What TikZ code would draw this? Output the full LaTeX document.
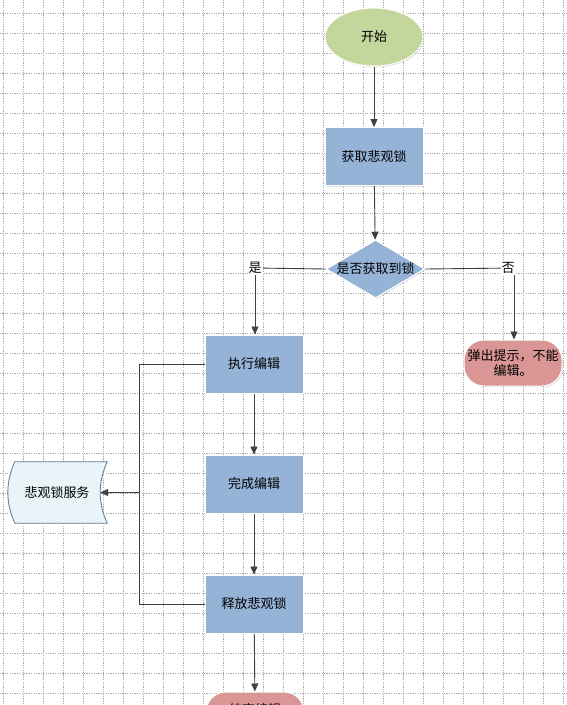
\documentclass[tikz,border=0pt]{standalone}
\usepackage{fontspec}
\setmainfont{Noto Sans CJK SC}
\usetikzlibrary{shapes.geometric,arrows.meta,shadows,calc}
\definecolor{boxblue}{HTML}{95B3D7}
\definecolor{startgreen}{HTML}{C3D69B}
\definecolor{endred}{HTML}{D99694}
\definecolor{tapefill}{HTML}{E8F4F8}
\definecolor{tapeline}{HTML}{5A7A90}
\definecolor{linegray}{HTML}{404040}
\definecolor{gridgray}{HTML}{A8A8A8}
\tikzset{
  every node/.style={font=\fontsize{13}{15}\selectfont, text=black},
  sh/.style={drop shadow={shadow xshift=1.2pt, shadow yshift=-1.2pt, opacity=0.25, fill=gray}},
  procbox/.style={rectangle, fill=boxblue, draw=white, line width=1pt, minimum width=98pt, minimum height=58pt, inner sep=0pt, sh},
  startell/.style={ellipse, fill=startgreen, draw=white, line width=1pt, minimum width=98pt, minimum height=58pt, inner sep=0pt, sh},
  decis/.style={diamond, fill=boxblue, draw=white, line width=1pt, minimum width=98pt, minimum height=58pt, inner sep=0pt, sh, aspect=1.7},
  termred/.style={rectangle, rounded corners=20pt, fill=endred, draw=white, line width=1pt, minimum width=98pt, minimum height=46pt, inner sep=0pt, align=center, sh},
  conn/.style={draw=linegray, line width=0.9pt, -{Triangle[length=8pt,width=7pt]}},
  plain/.style={draw=linegray, line width=0.9pt},
  lbl/.style={fill=white, inner sep=1pt},
  gridln/.style={gridgray, line width=0.9pt, dash pattern=on 1.2pt off 1.2pt},
}
\begin{document}
\begin{tikzpicture}[x=1pt,y=-1pt]
\useasboundingbox (0,0) rectangle (567,705);
\begin{scope}
\clip (0,0) rectangle (567,705);
\fill[white] (0,0) rectangle (567,705);
% grid
\foreach \x in {3,23,...,563} \draw[gridln] (\x,0) -- (\x,705);
\foreach \y in {13,33,...,693} \draw[gridln] (0,\y) -- (567,\y);

% nodes
\node[startell] (start) at (374,37) {开始};
\node[procbox] (get) at (374,156.5) {获取悲观锁};
\node[decis] (dec) at (375.5,269) {是否获取到锁};
\node[termred, text width=98pt] (warn) at (513,363) {弹出提示，不能\\编辑。};
\node[procbox] (exec) at (254,364) {执行编辑};
\node[procbox] (done) at (254,484) {完成编辑};
\node[procbox] (rel) at (254,604) {释放悲观锁};
\node[termred, minimum height=36pt] (fin) at (255,710) {结束编辑};
% stored data shape
\node[minimum width=92pt, minimum height=61pt, inner sep=0pt] (svc) at (61,492.5) {};
\path[fill=tapefill, draw=tapeline, line width=0.8pt]
  (svc.north west) -- (svc.north east)
  .. controls ($(svc.north east)!0.333!(svc.south east)+(-9.3,0)$) and ($(svc.north east)!0.667!(svc.south east)+(-9.3,0)$) .. (svc.south east)
  -- (svc.south west)
  .. controls ($(svc.south west)!0.333!(svc.north west)+(-9.3,0)$) and ($(svc.south west)!0.667!(svc.north west)+(-9.3,0)$) .. (svc.north west) -- cycle;
\node at ([xshift=-4pt]svc.center) {悲观锁服务};

% connectors
\coordinate (yes) at (255,268);
\coordinate (no) at (514,268);
\coordinate (la) at (139,364);
\coordinate (lb) at (139,604);
\coordinate (lm) at (139,492.5);
\draw[conn] (start) -- (get);
\draw[conn] (get) -- (dec);
\draw[plain] (dec.west) -- (yes);
\draw[conn] (yes) -- (yes |- exec.north);
\draw[plain] (dec.east) -- (no);
\draw[conn] (no) -- (no |- warn.north);
\node[lbl] at (yes) {是};
\node[lbl] at ([xshift=-6pt]no) {否};
\draw[conn] (exec) -- (done);
\draw[conn] (done) -- (rel);
\draw[conn] (rel) -- (fin);
\draw[plain] (exec.west) -- (la) -- (lb) -- (rel.west);
\draw[conn] (lm) -- ([xshift=-7pt]svc.east);
\end{scope}
\end{tikzpicture}
\end{document}
